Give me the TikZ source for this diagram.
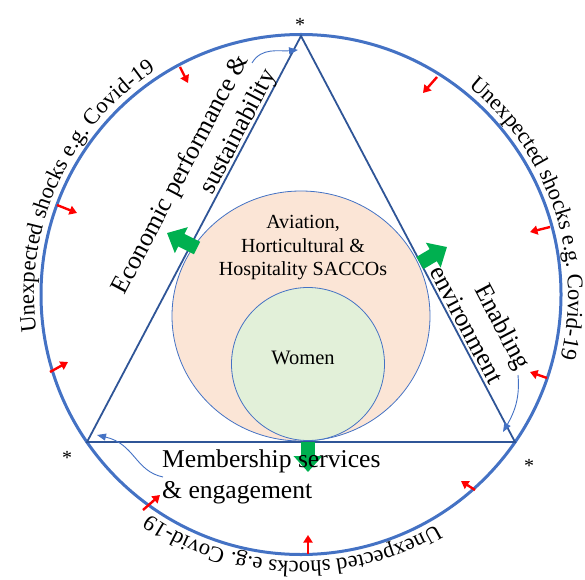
\documentclass[tikz,border=0pt]{standalone}
\usepackage{fontspec}
\setmainfont{Liberation Serif}
\usetikzlibrary{arrows.meta,decorations.text}

\definecolor{ringblue}{HTML}{4472C4}
\definecolor{edgeblue}{HTML}{2F5597}
\definecolor{saccofill}{HTML}{FBE5D6}
\definecolor{womenfill}{HTML}{E2F0D9}
\definecolor{growgreen}{HTML}{00B050}

\tikzset{
  shockarrow/.style={red, line width=2.4pt, -{Triangle[length=7.5pt,width=9pt]}},
  growarrow/.style={growgreen, line width=14pt, -{Triangle[length=16pt,width=28pt]}},
  linkarrow/.style={ringblue, line width=0.9pt, -{Triangle[length=9pt,width=7pt]}},
  sidelabel/.style={font=\fontsize{25.6}{31}\selectfont, inner sep=0pt},
  cornermark/.style={font=\fontsize{20}{24}\selectfont, inner sep=0pt},
  shocktext/.style={decorate, decoration={text along path, text align=center,
    text={|\fontsize{22.5}{27}\selectfont|Unexpected shocks e.g. Covid-19}}}
}

\begin{document}
\begin{tikzpicture}[x=1pt, y=1pt]
  \useasboundingbox (0,0) rectangle (585,579);

  % ***************** FRAME POINTS *****************
  \coordinate (O) at (301,284.5);
  \coordinate (A) at (301,543);
  \coordinate (B) at (87,137);
  \coordinate (C) at (515,137);

  % ***************** CIRCLES *****************
  \draw[ringblue, line width=0.8pt, fill=saccofill] (301,263) ellipse [x radius=129, y radius=125];
  \draw[ringblue, line width=0.8pt, fill=womenfill] (308,215) circle [radius=76.5];
  \node[font=\fontsize{20}{23.5}\selectfont, align=center] (saccos) at (303,331) {Aviation,\\Horticultural \&\\Hospitality SACCOs};
  \node[font=\fontsize{20.5}{24}\selectfont] (women) at (303,221) {Women};

  % ***************** RING AND TRIANGLE *****************
  \draw[ringblue, line width=3pt] (O) circle [radius=260];
  \draw[edgeblue, line width=1.8pt, line join=miter] (A) -- (B) -- (C) -- cycle;

  % ***************** ARROWS *****************
  \draw[growarrow] (197,331) -- (167,346);
  \draw[growarrow] (420,316) -- (447,332);
  \draw[growarrow] (308,137) -- (308,107);

  \foreach \sx/\sy/\ex/\ey in {180/512/188/496, 437/502/423/486, 57/374/77/366,
      50/207/68/217, 550/352/530/347, 547/201/530/207, 143/69/160/84,
      308/25/308/44, 475/89/461/98}
    \draw[shockarrow] (\sx,\sy) -- (\ex,\ey);

  % ***************** SIDE LABELS *****************
  \node[sidelabel, rotate=62.2, align=right] (econ) at (195,397) {Economic performance \&\\sustainability};
  \node[sidelabel, rotate=-62.2, align=right] (enab) at (481,262) {Enabling\\environment};
  \node[sidelabel, align=left, anchor=west] (memb) at (162,102) {Membership services\\\& engagement};

  \coordinate (econ-tail) at (252,516);
  \coordinate (econ-tip) at (298,529);
  \draw[linkarrow] (econ-tail) to[out=60,in=185] (econ-tip);

  \coordinate (enab-tail) at (518,204);
  \coordinate (enab-tip) at (503,147);
  \draw[linkarrow] (enab-tail) to[out=-85,in=60] (enab-tip);

  \coordinate (memb-tail) at (163,102);
  \coordinate (memb-tip) at (97,144);
  \draw[linkarrow] (memb-tail) .. controls (135,108) and (135,135) .. (memb-tip);

  % ***************** CORNERS *****************
  \node[cornermark] (starA) at (300,554) {*};
  \node[cornermark] (starB) at (67,121) {*};
  \node[cornermark] (starC) at (529,113) {*};

  % ***************** SHOCKS TEXT *****************
  \path[shocktext] (O) ++(195.5:267) arc [start angle=195.5, end angle=115.5, radius=267];
  \path[shocktext] (O) ++(58.7:267) arc [start angle=58.7, end angle=-21.3, radius=267];
  \path[shocktext] (O) ++(-52:267) arc [start angle=-52, end angle=-132, radius=267];

\end{tikzpicture}
\end{document}
